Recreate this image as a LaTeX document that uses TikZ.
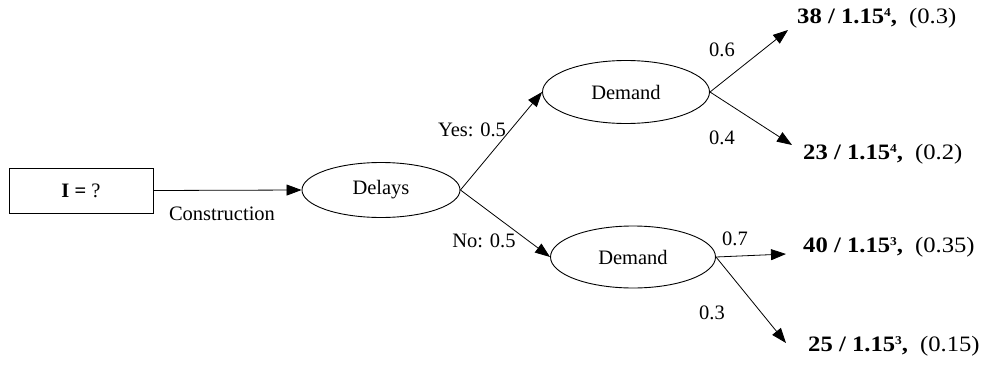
\documentclass[tikz,border=0pt]{standalone}
\usepackage{fontspec}
\setmainfont{Liberation Serif}
\newfontfamily\resfont[FakeStretch=1.12]{Liberation Serif}
\usetikzlibrary{shapes.geometric,arrows.meta}
\newcommand{\supx}[1]{\raisebox{6.6pt}{\fontsize{12}{12}\selectfont #1}}
\newcommand{\resl}[4]{\textbf{#1 / 1.15\supx{#2},}\hspace{0.55em}(#3)}
\begin{document}
\begin{tikzpicture}[x=1pt,y=-1pt,
  every node/.style={font=\fontsize{20.5}{24}\selectfont},
  ell/.style={draw,ellipse,inner sep=0pt,line width=0.9pt},
  conn/.style={line width=0.8pt,-{Triangle[length=15pt,width=11pt]}},
  res/.style={anchor=west,inner sep=0pt,font=\resfont\fontsize{22}{26}\selectfont},
  lbl/.style={inner sep=0pt}]
\useasboundingbox (0,0) rectangle (992,364);
\node[draw,line width=0.9pt,minimum width=144pt,minimum height=45pt,inner sep=0pt] (box) at (81,190.5) {\textbf{I =} ?};
\node[ell,minimum width=158pt,minimum height=55pt] (delays) at (381,190) {Delays};
\node[ell,minimum width=167pt,minimum height=63pt] (d1) at (626,92) {Demand};
\node[ell,minimum width=165pt,minimum height=62pt] (d2) at (633,257) {Demand};
\node[res] (r1) at (797,18) {\resl{38}{4}{0.3}{}};
\node[res] (r2) at (803,154) {\resl{23}{4}{0.2}{}};
\node[res] (r3) at (803,247) {\resl{40}{3}{0.35}{}};
\node[res] (r4) at (808,346) {\resl{25}{3}{0.15}{}};
\coordinate (t1) at (788,30);
\coordinate (t2) at (792,145);
\coordinate (t3) at (786,254);
\coordinate (t4) at (786,343);
\coordinate (o1) at (710,92);
\coordinate (o2) at (716,257);
\draw[conn] (box.east) -- (delays.west);
\draw[conn] (delays.east) -- (d1.west);
\draw[conn] (delays.east) -- (d2.west);
\draw[conn] (o1) -- (t1);
\draw[conn] (o1) -- (t2);
\draw[conn] (o2) -- (t3);
\draw[conn] (o2) -- (t4);
\node[lbl] (lc) at (222,214) {Construction};
\node[lbl] (ly) at (472,130) {Yes: 0.5};
\node[lbl] (ln) at (484,241) {No: 0.5};
\node[lbl] (l6) at (722,50) {0.6};
\node[lbl] (l4) at (722,138) {0.4};
\node[lbl] (l7) at (735,239) {0.7};
\node[lbl] (l3) at (712,313) {0.3};
\end{tikzpicture}
\end{document}
